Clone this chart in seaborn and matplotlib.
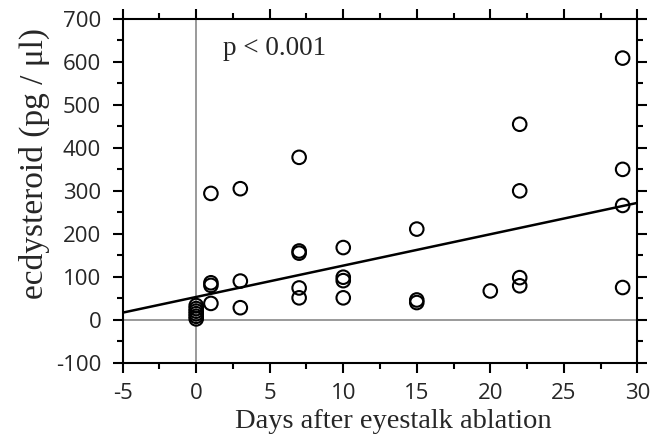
import numpy as np
import pandas as pd
import matplotlib
matplotlib.use("Agg")
import matplotlib.pyplot as plt
from matplotlib.ticker import MultipleLocator
import seaborn as sns

# days after ablation and ecdysteroid titer (pg/ul)
days = [0, 0, 0, 0, 0, 0,
        1, 1, 1, 1,
        3, 3, 3,
        7, 7, 7, 7, 7,
        10, 10, 10, 10,
        15, 15, 15,
        20,
        22, 22, 22, 22,
        29, 29, 29, 29]
ecdysteroid = [2, 8, 14, 20, 26, 33,
               294, 86, 80, 38,
               305, 90, 28,
               378, 160, 155, 74, 51,
               168, 99, 91, 51,
               211, 46, 40,
               67,
               455, 300, 98, 79,
               609, 350, 266, 75]

# regression line shown in the figure
fit_intercept = 53.0
fit_slope = 7.3
x_range = [-5, 30]
y_range = [-100, 700]

df = pd.DataFrame({"days": days, "ecdysteroid": ecdysteroid})

sns.set_style("ticks")
plt.rcParams["font.family"] = ["Open Sans", "DejaVu Sans"]
plt.rcParams["axes.unicode_minus"] = False

fig = plt.figure(figsize=(6.61, 4.48), dpi=100)
ax = fig.add_axes([0.1856, 0.1904, 0.7786, 0.7672])

# reference lines at zero
ax.axvline(0, color="#7f7f7f", lw=1.1, zorder=1)
ax.axhline(0, color="#7f7f7f", lw=1.1, zorder=1)

xs = np.array(x_range, dtype=float)
ax.plot(xs, fit_intercept + fit_slope * xs, color="black", lw=1.8, zorder=2)

sns.scatterplot(data=df, x="days", y="ecdysteroid", ax=ax, marker="o",
                s=95, facecolor="none", edgecolor="black", linewidth=1.5,
                zorder=3, legend=False)

ax.set_xlim(x_range)
ax.set_ylim(y_range)
ax.xaxis.set_major_locator(MultipleLocator(5))
ax.xaxis.set_minor_locator(MultipleLocator(2.5))
ax.yaxis.set_major_locator(MultipleLocator(100))
ax.yaxis.set_minor_locator(MultipleLocator(50))
ax.tick_params(which="both", direction="out", top=True, right=True,
               color="black", width=1.5)
ax.tick_params(which="major", length=7.5, labelsize=16, pad=7)
ax.tick_params(which="minor", length=4)
ax.tick_params(axis="y", which="major", pad=8)
for sp in ax.spines.values():
    sp.set_linewidth(1.5)
    sp.set_color("black")

serif = ["Liberation Serif", "DejaVu Serif"]
ax.set_xlabel("Days after eyestalk ablation", family=serif, fontsize=20.5)
ax.set_ylabel("ecdysteroid (pg / μl)", family=serif, fontsize=24)
ax.xaxis.set_label_coords(0.525, -0.135)
ax.yaxis.set_label_coords(-0.142, 0.58)
ax.text(5.3, 632, "p < 0.001", family=serif, fontsize=19.5,
        ha="center", va="center")

fig.savefig("out.png", dpi=100)
